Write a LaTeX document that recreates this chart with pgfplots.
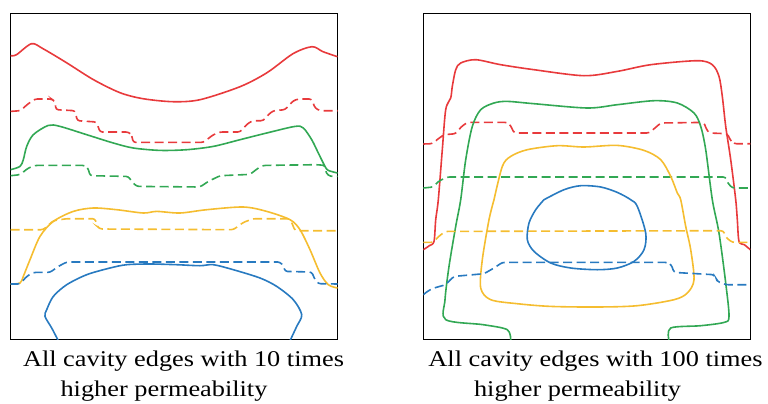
\documentclass[border=0pt]{standalone}
\usepackage{pgfplots}
\pgfplotsset{compat=1.18}
\usepackage{fontspec}
\setmainfont{Liberation Serif}
\definecolor{cr}{RGB}{232,58,60}
\definecolor{cg}{RGB}{50,168,84}
\definecolor{cy}{RGB}{245,189,48}
\definecolor{cb}{RGB}{40,122,192}
\pgfplotsset{
  panel/.style={width=327bp,height=326bp,scale only axis,
    xmin=0,xmax=327,ymin=0,ymax=326,y dir=reverse,
    xtick=\empty,ytick=\empty,
    axis line style={black,line width=1.1bp},anchor=south west},
  sol/.style={line width=1.6bp,smooth,tension=0.5,mark=none},
  das/.style={line width=1.6bp,dash pattern=on 9bp off 4.5bp,rounded corners=2.5bp,mark=none}
}
\begin{document}
\begin{tikzpicture}[x=1bp,y=1bp]
\path[use as bounding box] (0,0) rectangle (768,403);
\begin{axis}[panel, at={(10.5bp,63.3bp)}]
% red solid
\addplot[sol,cr] coordinates {(0,42) (6,41) (21,30) (32.5,35) (56,49) (83,66) (109.5,79) (132.5,85) (162.5,88) (189.5,86) (229.5,73) (256.5,59) (282.5,40) (301.5,33) (312.5,38) (327,43)};
% red dashed
\addplot[das,cr] coordinates {(0,97.7) (10,97) (16.5,91) (24.5,85.3) (41,85.3) (44.5,87.7) (45.5,96) (64.5,97) (66.8,107) (86,108.3) (89.5,118.3) (117.8,118.3) (121,121) (122.8,128.7) (192.8,128.7) (202.8,121) (209.5,118.3) (229.5,118.3) (237.8,109.3) (242.8,107) (252.8,107) (257.8,101) (262.8,97) (274.5,96) (282.8,87) (287.8,85.3) (301.2,85.3) (304.5,94.3) (309.5,97) (327,97)};
% green solid
\addplot[sol,cg] coordinates {(0,156) (9.5,152.7) (12.8,146) (16.2,132.7) (22.8,121) (37.8,111.7) (49.5,112.7) (76.2,121) (102.8,129.3) (122.8,134.3) (149.5,136.7) (176.2,136) (202.8,132.7) (229.5,126) (256.2,119.3) (284.5,112.7) (292.8,114.3) (301.2,126) (307.8,139.3) (314.5,152.7) (317.8,156.7) (327,159.3)};
% green dashed
\addplot[das,cg] coordinates {(0,162) (9.5,161) (17.8,154.3) (24.5,151.7) (74.5,151.7) (77.8,155) (79.5,162) (117.8,162.7) (121.2,167.7) (126.2,172.7) (189.5,173.3) (197.8,167.7) (209.5,162) (239.5,160.7) (247.8,154.3) (252.8,151.7) (306.2,151) (314.5,151.7) (315.5,159.3) (319.5,162.7) (327,162.7)};
% yellow solid
\addplot[sol,cy] coordinates {(0,270.3) (9.5,269.3) (12.8,262.7) (19.5,246) (29.5,222.7) (42.8,207.7) (62.8,197.7) (82.8,194.3) (106.2,196) (132.8,199.3) (146.2,197.7) (169.5,199.3) (196.2,196) (232.8,193.3) (256.2,197.7) (279.5,206) (289.5,216) (299.5,236) (309.5,259.3) (317.8,271) (327,274.3)};
% yellow dashed
\addplot[das,cy] coordinates {(0,216) (32.8,216) (42.8,207) (56.2,205) (84.5,205) (86.8,212.7) (89.5,215.3) (222.8,216) (232.8,208.7) (242.8,205) (279.5,205) (282.8,212.7) (284.5,217) (327,217)};
% blue dashed
\addplot[das,cb] coordinates {(0,270.3) (9.5,270.3) (16.2,262.7) (22.8,258.7) (39.5,258.7) (47.8,252.7) (56.2,248.3) (269.5,248.3) (273.2,252.7) (274.5,257.7) (301.2,258.3) (304.5,266) (307.8,270) (327,270.3)};
% blue solid
\addplot[sol,cb] coordinates {(47.8,327) (41.2,314.3) (34.5,302.7) (36.2,296) (42.8,282.7) (56.2,271) (76.2,261) (99.5,254.3) (116.2,251) (139.5,250.3) (166.2,251) (189.5,252) (202.8,251) (222.8,256) (249.5,264.3) (266.2,272.7) (282.8,286) (291.2,301) (286.2,312.7) (279.5,327)};
\end{axis}
\begin{axis}[panel, at={(423.3bp,63.3bp)}]
% red solid
\addplot[sol,cr] coordinates {(0,236) (6,232) (10.7,227.7) (12.4,206) (15,186) (19,136) (22.4,96) (27.4,84.3) (29,72.7) (32.4,56) (37.4,49.3) (52.4,46) (77.4,51) (110.7,56) (160.7,62) (194,57.7) (227.4,51) (274,47) (289,51) (295.7,62.7) (299,82.7) (302.4,112.7) (307.4,146) (312.4,186) (314,206) (315.7,227.7) (321,231) (327,236)};
% red dashed
\addplot[das,cr] coordinates {(0,130.3) (9,130) (15,125) (20.7,121) (32.4,120) (38,113) (44,108.7) (84,108.7) (87.4,112) (90.7,119.3) (225.7,119.3) (232,114) (237.4,109.3) (280.7,108.7) (282.4,114) (285.7,119.3) (304,120) (307.4,127) (310.7,130) (327,130)};
% green solid
\addplot[sol,cg] coordinates {(87.4,327) (84,316) (60,311) (22.4,306) (21.7,286) (25.7,252.7) (32.4,212.7) (37.4,186) (42.4,146) (49,112.7) (57.4,96) (70.7,89.3) (84,87.7) (110.7,90) (164,94.3) (194,91) (230.7,87) (254,89.3) (270.7,99.3) (277.4,112.7) (282.4,136) (289,186) (295.7,219.3) (302.4,269.3) (305.7,302.7) (300.7,308.7) (277.4,312) (247.4,314.3) (245.7,327)};
% green dashed
\addplot[das,cg] coordinates {(0,174.3) (10,173.3) (15,167.7) (24,163.3) (302.4,163.3) (304,168.7) (309,174.3) (327,174.3)};
% yellow solid
\addplot[sol,cy] coordinates {(70.7,186) (79,152.7) (87.4,142.7) (104,136) (134,132) (160.7,133.3) (194,131.7) (220.7,136.7) (237.4,146) (247.4,162.7) (254,179.3) (257.4,186) (262.4,212.7) (267.4,236) (270.7,266) (264,279.3) (250.7,286) (214,292) (174,293.3) (127.4,292.7) (94,290) (67.4,286) (57.4,274.3) (59,246) (65.7,206) (70.7,186)};
% yellow dashed
\addplot[das,cy] coordinates {(0,228.7) (10,228.7) (15,223) (22,217.7) (300,217) (303,224) (309,228.7) (327,228.7)};
% blue solid
\addplot[sol,cb] coordinates {(120.7,186) (140.7,176) (157.4,172) (177.4,173.3) (194,178.7) (207.4,186) (214,192.7) (222.4,219.3) (220.7,236) (210.7,247.7) (194,254.3) (174,256) (147.4,254.3) (127.4,249.3) (110.7,237.7) (104,226) (105.7,209.3) (112.4,196) (120.7,186)};
% blue dashed
\addplot[das,cb] coordinates {(0,281) (5,277) (10.7,274.3) (22.4,271) (27,266) (30.7,262.7) (60.7,260) (66,257) (70.7,254.3) (79,248.7) (244,248.7) (248,251) (250.7,258.7) (290.7,261) (293,265) (294,267.7) (302.4,271) (327,271)};
\end{axis}
\def\cap{\fontsize{22.5bp}{27bp}\selectfont}
\node[anchor=base,xscale=1.17,inner sep=0pt] at (183.5,36.3) {\cap All cavity edges with 10 times};
\node[anchor=base,xscale=1.17,inner sep=0pt] at (164,6.3) {\cap higher permeability};
\node[anchor=base,xscale=1.17,inner sep=0pt] at (595.5,36.3) {\cap All cavity edges with 100 times};
\node[anchor=base,xscale=1.17,inner sep=0pt] at (577.5,6.3) {\cap higher permeability};
\end{tikzpicture}
\end{document}
